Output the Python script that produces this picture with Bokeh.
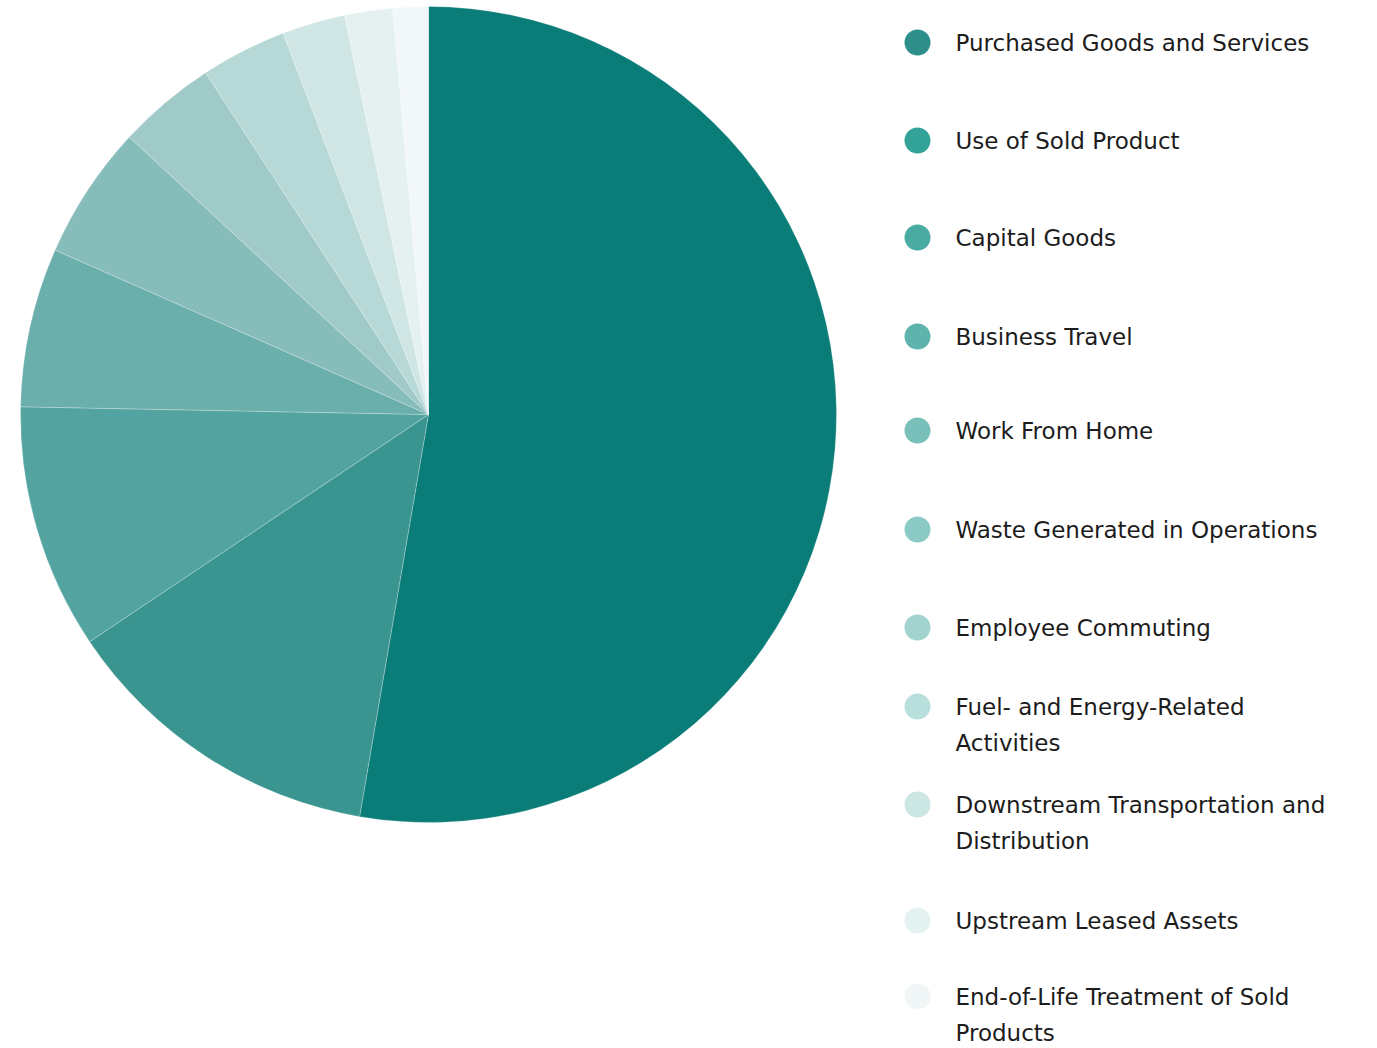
import numpy as np
from bokeh.plotting import figure
from bokeh.models import Range1d, ColumnDataSource
from bokeh.core.properties import value
from bokeh.embed import file_html
from bokeh.resources import INLINE

categories = [
    "Purchased Goods and Services",
    "Use of Sold Product",
    "Capital Goods",
    "Business Travel",
    "Work From Home",
    "Waste Generated in Operations",
    "Employee Commuting",
    "Fuel- and Energy-Related\nActivities",
    "Downstream Transportation and\nDistribution",
    "Upstream Leased Assets",
    "End-of-Life Treatment of Sold\nProducts",
]
shares = [52.7, 12.9, 9.7, 6.3, 5.3, 3.9, 3.4, 2.5, 1.9, 1.4, 0.0]
slice_colors = ["#0b7d79", "#3a9590", "#53a4a0", "#6bafac", "#86bcba", "#a0cac8",
                "#b6d8d6", "#d0e6e4", "#e5f1f1", "#f2f8f8", "#f7fbfb"]
marker_colors = ["#2e8f8a", "#33a39a", "#4aaba3", "#5fb3ad", "#79c0ba", "#8ccac5",
                 "#a2d3cf", "#b8dfdc", "#cce6e4", "#e3f1f0", "#f0f7f6"]
legend_y = [42, 140, 237, 336, 430, 529, 627, 706, 804, 920, 996]

W, H = 1377, 1048
p = figure(width=W, height=H, output_backend="svg", toolbar_location=None,
           x_range=Range1d(0, W), y_range=Range1d(-H, 0),
           min_border=0, match_aspect=False)
p.axis.visible = False
p.grid.visible = False
p.outline_line_color = None
p.background_fill_color = "white"
p.border_fill_color = "white"

total = float(sum(shares))
frac = np.array(shares) / total
cum = np.concatenate([[0.0], np.cumsum(frac)])
start = np.pi / 2 - 2 * np.pi * cum[:-1]
end = np.pi / 2 - 2 * np.pi * cum[1:]
keep = frac > 0
src = ColumnDataSource(dict(start=start[keep], end=end[keep],
                            color=[c for c, k in zip(slice_colors, keep) if k]))
p.wedge(x=428, y=-414, radius=408, start_angle="start", end_angle="end",
        direction="clock", fill_color="color", line_color="white", line_width=0.4,
        line_alpha=0.6, source=src)

# legend
p.scatter(x=[917] * len(categories), y=[-v for v in legend_y], size=26,
          fill_color=marker_colors, line_color=None)
tx, ty, tt = [], [], []
for lab, yy in zip(categories, legend_y):
    for i, line in enumerate(lab.split("\n")):
        tx.append(955)
        ty.append(-(yy + i * 36))
        tt.append(line)
p.text(x=tx, y=ty, text=tt, text_baseline="middle", text_align="left",
       text_font=value("DejaVu Sans"), text_font_size="23px", text_color="#1c1c1c")

open("out.html", "w").write(file_html(p, INLINE))
